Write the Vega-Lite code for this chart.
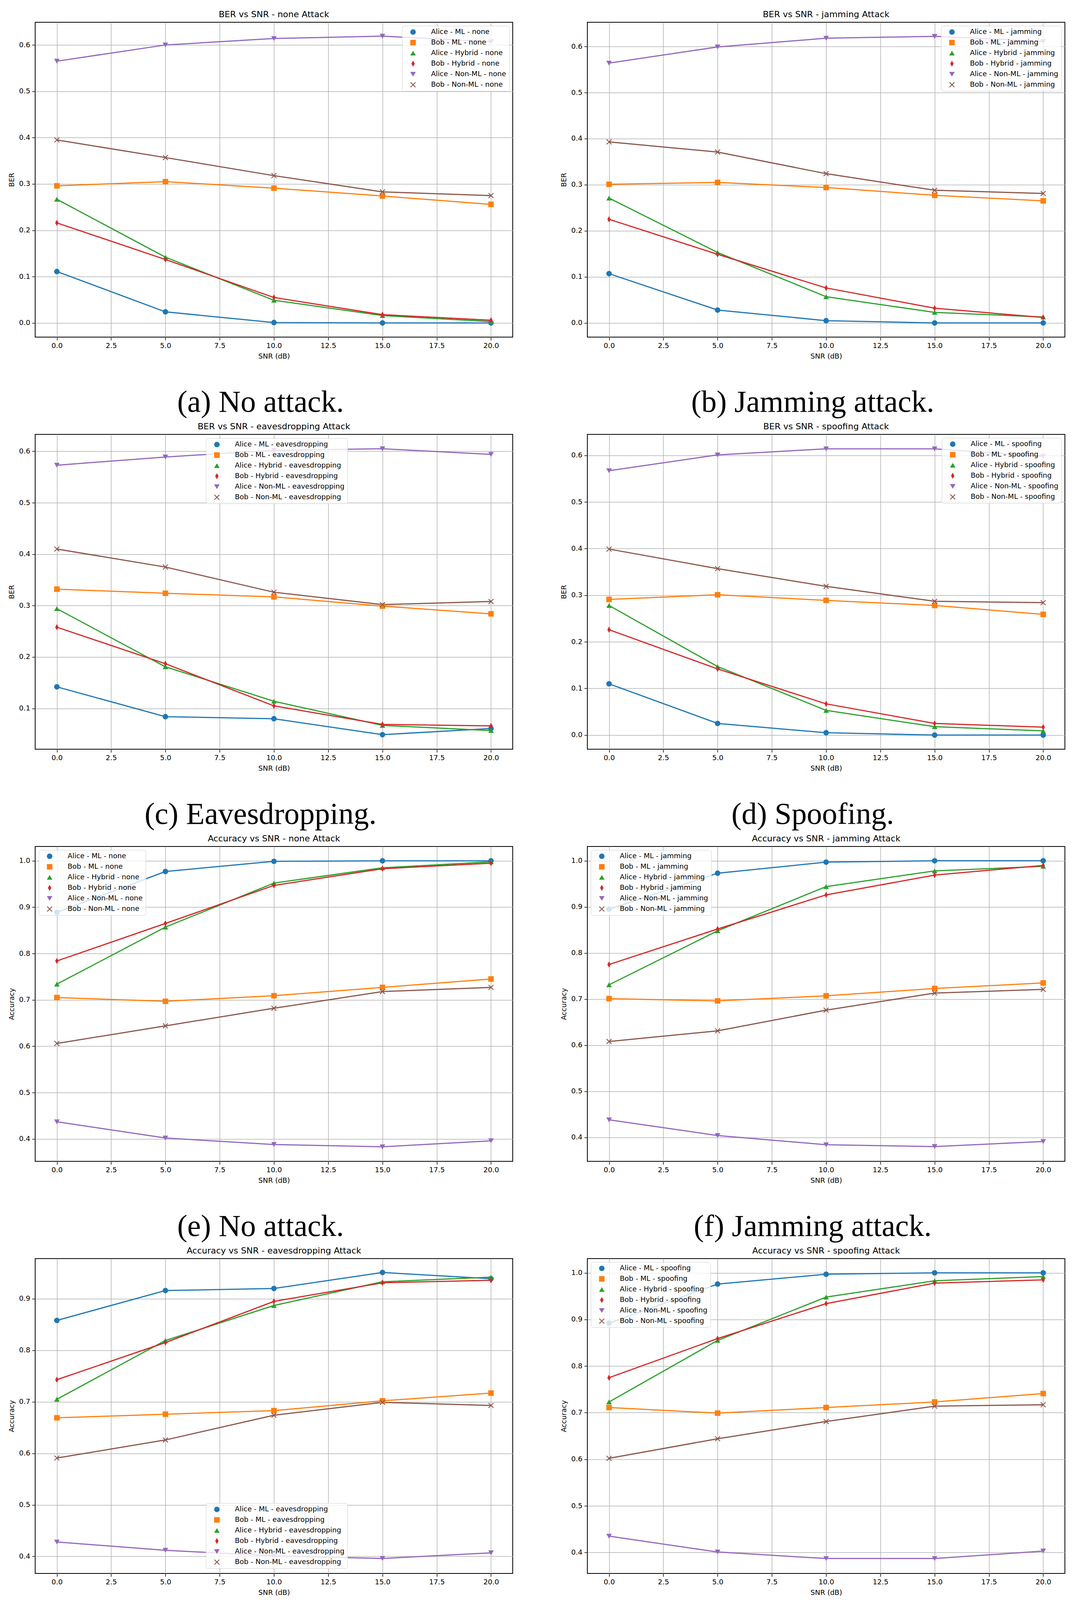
{
  "$schema": "https://vega.github.io/schema/vega-lite/v6.json",
  "background": "white",
  "padding": {"left": 20, "top": 25, "right": 10, "bottom": 0},
  "config": {
    "font": "DejaVu Sans",
    "view": {"stroke": "#000000", "strokeWidth": 2},
    "axis": {
      "labelFontSize": 18, "labelColor": "#000000", "titleFontSize": 18, "titleFontWeight": "normal",
      "titleColor": "#000000", "tickColor": "#000000", "tickSize": 8, "tickWidth": 1.5, "domain": false,
      "grid": true, "gridColor": "#b0b0b0", "gridWidth": 1.5, "labelPadding": 5, "titlePadding": 9
    },
    "axisX": {"labelAngle": 0},
    "title": {"fontSize": 22, "fontWeight": "normal", "color": "#000000", "offset": 8, "anchor": "middle"},
    "legend": {
      "labelFontSize": 18, "labelColor": "#000000", "labelLimit": 400, "symbolSize": 200, "symbolStrokeWidth": 0,
      "symbolOffset": 12, "labelOffset": 37, "rowPadding": 9, "padding": 7, "fillColor": "rgba(255,255,255,0.8)",
      "strokeColor": "#d0d0d0", "cornerRadius": 5, "offset": 9
    },
    "line": {"strokeWidth": 3},
    "point": {"filled": true, "size": 200, "opacity": 1}
  },
  "data": {"values": [
    {"p":"a","s":"Alice - ML","x":0,"y":0.111},{"p":"a","s":"Alice - ML","x":5,"y":0.024},{"p":"a","s":"Alice - ML","x":10,"y":0.001},{"p":"a","s":"Alice - ML","x":15,"y":0.0},{"p":"a","s":"Alice - ML","x":20,"y":0.0},
    {"p":"a","s":"Bob - ML","x":0,"y":0.296},{"p":"a","s":"Bob - ML","x":5,"y":0.305},{"p":"a","s":"Bob - ML","x":10,"y":0.291},{"p":"a","s":"Bob - ML","x":15,"y":0.274},{"p":"a","s":"Bob - ML","x":20,"y":0.256},
    {"p":"a","s":"Alice - Hybrid","x":0,"y":0.267},{"p":"a","s":"Alice - Hybrid","x":5,"y":0.142},{"p":"a","s":"Alice - Hybrid","x":10,"y":0.049},{"p":"a","s":"Alice - Hybrid","x":15,"y":0.016},{"p":"a","s":"Alice - Hybrid","x":20,"y":0.003},
    {"p":"a","s":"Bob - Hybrid","x":0,"y":0.216},{"p":"a","s":"Bob - Hybrid","x":5,"y":0.137},{"p":"a","s":"Bob - Hybrid","x":10,"y":0.055},{"p":"a","s":"Bob - Hybrid","x":15,"y":0.018},{"p":"a","s":"Bob - Hybrid","x":20,"y":0.006},
    {"p":"a","s":"Alice - Non-ML","x":0,"y":0.565},{"p":"a","s":"Alice - Non-ML","x":5,"y":0.600},{"p":"a","s":"Alice - Non-ML","x":10,"y":0.614},{"p":"a","s":"Alice - Non-ML","x":15,"y":0.619},{"p":"a","s":"Alice - Non-ML","x":20,"y":0.607},
    {"p":"a","s":"Bob - Non-ML","x":0,"y":0.395},{"p":"a","s":"Bob - Non-ML","x":5,"y":0.357},{"p":"a","s":"Bob - Non-ML","x":10,"y":0.318},{"p":"a","s":"Bob - Non-ML","x":15,"y":0.283},{"p":"a","s":"Bob - Non-ML","x":20,"y":0.275},

    {"p":"b","s":"Alice - ML","x":0,"y":0.107},{"p":"b","s":"Alice - ML","x":5,"y":0.028},{"p":"b","s":"Alice - ML","x":10,"y":0.005},{"p":"b","s":"Alice - ML","x":15,"y":0.0},{"p":"b","s":"Alice - ML","x":20,"y":0.0},
    {"p":"b","s":"Bob - ML","x":0,"y":0.301},{"p":"b","s":"Bob - ML","x":5,"y":0.305},{"p":"b","s":"Bob - ML","x":10,"y":0.294},{"p":"b","s":"Bob - ML","x":15,"y":0.277},{"p":"b","s":"Bob - ML","x":20,"y":0.265},
    {"p":"b","s":"Alice - Hybrid","x":0,"y":0.271},{"p":"b","s":"Alice - Hybrid","x":5,"y":0.153},{"p":"b","s":"Alice - Hybrid","x":10,"y":0.057},{"p":"b","s":"Alice - Hybrid","x":15,"y":0.023},{"p":"b","s":"Alice - Hybrid","x":20,"y":0.013},
    {"p":"b","s":"Bob - Hybrid","x":0,"y":0.225},{"p":"b","s":"Bob - Hybrid","x":5,"y":0.149},{"p":"b","s":"Bob - Hybrid","x":10,"y":0.076},{"p":"b","s":"Bob - Hybrid","x":15,"y":0.032},{"p":"b","s":"Bob - Hybrid","x":20,"y":0.012},
    {"p":"b","s":"Alice - Non-ML","x":0,"y":0.564},{"p":"b","s":"Alice - Non-ML","x":5,"y":0.599},{"p":"b","s":"Alice - Non-ML","x":10,"y":0.618},{"p":"b","s":"Alice - Non-ML","x":15,"y":0.622},{"p":"b","s":"Alice - Non-ML","x":20,"y":0.611},
    {"p":"b","s":"Bob - Non-ML","x":0,"y":0.393},{"p":"b","s":"Bob - Non-ML","x":5,"y":0.371},{"p":"b","s":"Bob - Non-ML","x":10,"y":0.324},{"p":"b","s":"Bob - Non-ML","x":15,"y":0.288},{"p":"b","s":"Bob - Non-ML","x":20,"y":0.281},

    {"p":"c","s":"Alice - ML","x":0,"y":0.142},{"p":"c","s":"Alice - ML","x":5,"y":0.084},{"p":"c","s":"Alice - ML","x":10,"y":0.080},{"p":"c","s":"Alice - ML","x":15,"y":0.049},{"p":"c","s":"Alice - ML","x":20,"y":0.061},
    {"p":"c","s":"Bob - ML","x":0,"y":0.332},{"p":"c","s":"Bob - ML","x":5,"y":0.324},{"p":"c","s":"Bob - ML","x":10,"y":0.317},{"p":"c","s":"Bob - ML","x":15,"y":0.299},{"p":"c","s":"Bob - ML","x":20,"y":0.284},
    {"p":"c","s":"Alice - Hybrid","x":0,"y":0.294},{"p":"c","s":"Alice - Hybrid","x":5,"y":0.181},{"p":"c","s":"Alice - Hybrid","x":10,"y":0.114},{"p":"c","s":"Alice - Hybrid","x":15,"y":0.067},{"p":"c","s":"Alice - Hybrid","x":20,"y":0.057},
    {"p":"c","s":"Bob - Hybrid","x":0,"y":0.258},{"p":"c","s":"Bob - Hybrid","x":5,"y":0.187},{"p":"c","s":"Bob - Hybrid","x":10,"y":0.105},{"p":"c","s":"Bob - Hybrid","x":15,"y":0.069},{"p":"c","s":"Bob - Hybrid","x":20,"y":0.066},
    {"p":"c","s":"Alice - Non-ML","x":0,"y":0.573},{"p":"c","s":"Alice - Non-ML","x":5,"y":0.589},{"p":"c","s":"Alice - Non-ML","x":10,"y":0.602},{"p":"c","s":"Alice - Non-ML","x":15,"y":0.605},{"p":"c","s":"Alice - Non-ML","x":20,"y":0.594},
    {"p":"c","s":"Bob - Non-ML","x":0,"y":0.410},{"p":"c","s":"Bob - Non-ML","x":5,"y":0.375},{"p":"c","s":"Bob - Non-ML","x":10,"y":0.326},{"p":"c","s":"Bob - Non-ML","x":15,"y":0.302},{"p":"c","s":"Bob - Non-ML","x":20,"y":0.308},

    {"p":"d","s":"Alice - ML","x":0,"y":0.110},{"p":"d","s":"Alice - ML","x":5,"y":0.025},{"p":"d","s":"Alice - ML","x":10,"y":0.005},{"p":"d","s":"Alice - ML","x":15,"y":0.0},{"p":"d","s":"Alice - ML","x":20,"y":0.0},
    {"p":"d","s":"Bob - ML","x":0,"y":0.291},{"p":"d","s":"Bob - ML","x":5,"y":0.301},{"p":"d","s":"Bob - ML","x":10,"y":0.289},{"p":"d","s":"Bob - ML","x":15,"y":0.278},{"p":"d","s":"Bob - ML","x":20,"y":0.259},
    {"p":"d","s":"Alice - Hybrid","x":0,"y":0.278},{"p":"d","s":"Alice - Hybrid","x":5,"y":0.147},{"p":"d","s":"Alice - Hybrid","x":10,"y":0.053},{"p":"d","s":"Alice - Hybrid","x":15,"y":0.018},{"p":"d","s":"Alice - Hybrid","x":20,"y":0.009},
    {"p":"d","s":"Bob - Hybrid","x":0,"y":0.226},{"p":"d","s":"Bob - Hybrid","x":5,"y":0.142},{"p":"d","s":"Bob - Hybrid","x":10,"y":0.067},{"p":"d","s":"Bob - Hybrid","x":15,"y":0.025},{"p":"d","s":"Bob - Hybrid","x":20,"y":0.017},
    {"p":"d","s":"Alice - Non-ML","x":0,"y":0.567},{"p":"d","s":"Alice - Non-ML","x":5,"y":0.601},{"p":"d","s":"Alice - Non-ML","x":10,"y":0.614},{"p":"d","s":"Alice - Non-ML","x":15,"y":0.614},{"p":"d","s":"Alice - Non-ML","x":20,"y":0.598},
    {"p":"d","s":"Bob - Non-ML","x":0,"y":0.399},{"p":"d","s":"Bob - Non-ML","x":5,"y":0.357},{"p":"d","s":"Bob - Non-ML","x":10,"y":0.319},{"p":"d","s":"Bob - Non-ML","x":15,"y":0.287},{"p":"d","s":"Bob - Non-ML","x":20,"y":0.284},

    {"p":"e","s":"Alice - ML","x":0,"y":0.889},{"p":"e","s":"Alice - ML","x":5,"y":0.977},{"p":"e","s":"Alice - ML","x":10,"y":0.999},{"p":"e","s":"Alice - ML","x":15,"y":1.0},{"p":"e","s":"Alice - ML","x":20,"y":1.0},
    {"p":"e","s":"Bob - ML","x":0,"y":0.705},{"p":"e","s":"Bob - ML","x":5,"y":0.697},{"p":"e","s":"Bob - ML","x":10,"y":0.709},{"p":"e","s":"Bob - ML","x":15,"y":0.727},{"p":"e","s":"Bob - ML","x":20,"y":0.745},
    {"p":"e","s":"Alice - Hybrid","x":0,"y":0.734},{"p":"e","s":"Alice - Hybrid","x":5,"y":0.857},{"p":"e","s":"Alice - Hybrid","x":10,"y":0.952},{"p":"e","s":"Alice - Hybrid","x":15,"y":0.985},{"p":"e","s":"Alice - Hybrid","x":20,"y":0.998},
    {"p":"e","s":"Bob - Hybrid","x":0,"y":0.784},{"p":"e","s":"Bob - Hybrid","x":5,"y":0.865},{"p":"e","s":"Bob - Hybrid","x":10,"y":0.947},{"p":"e","s":"Bob - Hybrid","x":15,"y":0.983},{"p":"e","s":"Bob - Hybrid","x":20,"y":0.995},
    {"p":"e","s":"Alice - Non-ML","x":0,"y":0.437},{"p":"e","s":"Alice - Non-ML","x":5,"y":0.402},{"p":"e","s":"Alice - Non-ML","x":10,"y":0.388},{"p":"e","s":"Alice - Non-ML","x":15,"y":0.383},{"p":"e","s":"Alice - Non-ML","x":20,"y":0.396},
    {"p":"e","s":"Bob - Non-ML","x":0,"y":0.606},{"p":"e","s":"Bob - Non-ML","x":5,"y":0.644},{"p":"e","s":"Bob - Non-ML","x":10,"y":0.682},{"p":"e","s":"Bob - Non-ML","x":15,"y":0.718},{"p":"e","s":"Bob - Non-ML","x":20,"y":0.727},

    {"p":"f","s":"Alice - ML","x":0,"y":0.895},{"p":"f","s":"Alice - ML","x":5,"y":0.973},{"p":"f","s":"Alice - ML","x":10,"y":0.997},{"p":"f","s":"Alice - ML","x":15,"y":1.0},{"p":"f","s":"Alice - ML","x":20,"y":1.0},
    {"p":"f","s":"Bob - ML","x":0,"y":0.701},{"p":"f","s":"Bob - ML","x":5,"y":0.696},{"p":"f","s":"Bob - ML","x":10,"y":0.707},{"p":"f","s":"Bob - ML","x":15,"y":0.723},{"p":"f","s":"Bob - ML","x":20,"y":0.735},
    {"p":"f","s":"Alice - Hybrid","x":0,"y":0.731},{"p":"f","s":"Alice - Hybrid","x":5,"y":0.848},{"p":"f","s":"Alice - Hybrid","x":10,"y":0.944},{"p":"f","s":"Alice - Hybrid","x":15,"y":0.978},{"p":"f","s":"Alice - Hybrid","x":20,"y":0.988},
    {"p":"f","s":"Bob - Hybrid","x":0,"y":0.775},{"p":"f","s":"Bob - Hybrid","x":5,"y":0.852},{"p":"f","s":"Bob - Hybrid","x":10,"y":0.926},{"p":"f","s":"Bob - Hybrid","x":15,"y":0.969},{"p":"f","s":"Bob - Hybrid","x":20,"y":0.990},
    {"p":"f","s":"Alice - Non-ML","x":0,"y":0.438},{"p":"f","s":"Alice - Non-ML","x":5,"y":0.404},{"p":"f","s":"Alice - Non-ML","x":10,"y":0.384},{"p":"f","s":"Alice - Non-ML","x":15,"y":0.380},{"p":"f","s":"Alice - Non-ML","x":20,"y":0.391},
    {"p":"f","s":"Bob - Non-ML","x":0,"y":0.608},{"p":"f","s":"Bob - Non-ML","x":5,"y":0.631},{"p":"f","s":"Bob - Non-ML","x":10,"y":0.676},{"p":"f","s":"Bob - Non-ML","x":15,"y":0.713},{"p":"f","s":"Bob - Non-ML","x":20,"y":0.721},

    {"p":"g","s":"Alice - ML","x":0,"y":0.858},{"p":"g","s":"Alice - ML","x":5,"y":0.916},{"p":"g","s":"Alice - ML","x":10,"y":0.920},{"p":"g","s":"Alice - ML","x":15,"y":0.951},{"p":"g","s":"Alice - ML","x":20,"y":0.939},
    {"p":"g","s":"Bob - ML","x":0,"y":0.669},{"p":"g","s":"Bob - ML","x":5,"y":0.676},{"p":"g","s":"Bob - ML","x":10,"y":0.683},{"p":"g","s":"Bob - ML","x":15,"y":0.702},{"p":"g","s":"Bob - ML","x":20,"y":0.717},
    {"p":"g","s":"Alice - Hybrid","x":0,"y":0.705},{"p":"g","s":"Alice - Hybrid","x":5,"y":0.819},{"p":"g","s":"Alice - Hybrid","x":10,"y":0.887},{"p":"g","s":"Alice - Hybrid","x":15,"y":0.933},{"p":"g","s":"Alice - Hybrid","x":20,"y":0.942},
    {"p":"g","s":"Bob - Hybrid","x":0,"y":0.743},{"p":"g","s":"Bob - Hybrid","x":5,"y":0.815},{"p":"g","s":"Bob - Hybrid","x":10,"y":0.895},{"p":"g","s":"Bob - Hybrid","x":15,"y":0.931},{"p":"g","s":"Bob - Hybrid","x":20,"y":0.936},
    {"p":"g","s":"Alice - Non-ML","x":0,"y":0.428},{"p":"g","s":"Alice - Non-ML","x":5,"y":0.412},{"p":"g","s":"Alice - Non-ML","x":10,"y":0.401},{"p":"g","s":"Alice - Non-ML","x":15,"y":0.396},{"p":"g","s":"Alice - Non-ML","x":20,"y":0.407},
    {"p":"g","s":"Bob - Non-ML","x":0,"y":0.591},{"p":"g","s":"Bob - Non-ML","x":5,"y":0.626},{"p":"g","s":"Bob - Non-ML","x":10,"y":0.674},{"p":"g","s":"Bob - Non-ML","x":15,"y":0.699},{"p":"g","s":"Bob - Non-ML","x":20,"y":0.693},

    {"p":"h","s":"Alice - ML","x":0,"y":0.892},{"p":"h","s":"Alice - ML","x":5,"y":0.976},{"p":"h","s":"Alice - ML","x":10,"y":0.997},{"p":"h","s":"Alice - ML","x":15,"y":1.0},{"p":"h","s":"Alice - ML","x":20,"y":1.0},
    {"p":"h","s":"Bob - ML","x":0,"y":0.711},{"p":"h","s":"Bob - ML","x":5,"y":0.699},{"p":"h","s":"Bob - ML","x":10,"y":0.711},{"p":"h","s":"Bob - ML","x":15,"y":0.723},{"p":"h","s":"Bob - ML","x":20,"y":0.741},
    {"p":"h","s":"Alice - Hybrid","x":0,"y":0.723},{"p":"h","s":"Alice - Hybrid","x":5,"y":0.855},{"p":"h","s":"Alice - Hybrid","x":10,"y":0.948},{"p":"h","s":"Alice - Hybrid","x":15,"y":0.983},{"p":"h","s":"Alice - Hybrid","x":20,"y":0.992},
    {"p":"h","s":"Bob - Hybrid","x":0,"y":0.775},{"p":"h","s":"Bob - Hybrid","x":5,"y":0.859},{"p":"h","s":"Bob - Hybrid","x":10,"y":0.934},{"p":"h","s":"Bob - Hybrid","x":15,"y":0.978},{"p":"h","s":"Bob - Hybrid","x":20,"y":0.985},
    {"p":"h","s":"Alice - Non-ML","x":0,"y":0.435},{"p":"h","s":"Alice - Non-ML","x":5,"y":0.401},{"p":"h","s":"Alice - Non-ML","x":10,"y":0.387},{"p":"h","s":"Alice - Non-ML","x":15,"y":0.387},{"p":"h","s":"Alice - Non-ML","x":20,"y":0.403},
    {"p":"h","s":"Bob - Non-ML","x":0,"y":0.602},{"p":"h","s":"Bob - Non-ML","x":5,"y":0.644},{"p":"h","s":"Bob - Non-ML","x":10,"y":0.681},{"p":"h","s":"Bob - Non-ML","x":15,"y":0.714},{"p":"h","s":"Bob - Non-ML","x":20,"y":0.717}
  ]},
  "columns": 2,
  "spacing": {"row": 10, "column": 120},
  "resolve": {"scale": {"color": "independent", "shape": "independent"}, "legend": {"color": "independent", "shape": "independent"}},
  "concat": [
    {
      "title": {"text": "(a) No attack.", "orient": "bottom", "font": "Liberation Serif", "fontSize": 78, "fontWeight": "normal", "baseline": "top", "offset": 70},
      "resolve": {"scale": {"color": "independent", "shape": "independent"}, "legend": {"color": "independent", "shape": "independent"}},
      "vconcat": [{
        "title": "BER vs SNR - none Attack",
        "width": 1222, "height": 806,
        "transform": [{"filter": "datum.p == 'a'"}],
        "encoding": {
          "x": {"field": "x", "type": "quantitative", "scale": {"domain": [-1, 21], "nice": false, "zero": false}, "axis": {"values": [0, 2.5, 5, 7.5, 10, 12.5, 15, 17.5, 20], "format": ".1f", "title": "SNR (dB)"}},
          "y": {"field": "y", "type": "quantitative", "scale": {"domain": [-0.0305, 0.649], "nice": false, "zero": false}, "axis": {"values": [0, 0.1, 0.2, 0.3, 0.4, 0.5, 0.6], "format": ".1f", "title": "BER"}}
        },
        "layer": [
          {"transform": [{"filter": "datum.s == 'Alice - ML'"}], "mark": {"type": "line", "color": "#1f77b4"}},
          {"transform": [{"filter": "datum.s == 'Bob - ML'"}], "mark": {"type": "line", "color": "#ff7f0e"}},
          {"transform": [{"filter": "datum.s == 'Alice - Hybrid'"}], "mark": {"type": "line", "color": "#2ca02c"}},
          {"transform": [{"filter": "datum.s == 'Bob - Hybrid'"}], "mark": {"type": "line", "color": "#d62728"}},
          {"transform": [{"filter": "datum.s == 'Alice - Non-ML'"}], "mark": {"type": "line", "color": "#9467bd"}},
          {"transform": [{"filter": "datum.s == 'Bob - Non-ML'"}], "mark": {"type": "line", "color": "#8c564b"}},
          {"mark": "point", "encoding": {
            "color": {"field": "s", "type": "nominal", "scale": {"domain": ["Alice - ML", "Bob - ML", "Alice - Hybrid", "Bob - Hybrid", "Alice - Non-ML", "Bob - Non-ML"], "range": ["#1f77b4", "#ff7f0e", "#2ca02c", "#d62728", "#9467bd", "#8c564b"]},
              "legend": {"title": null, "orient": "top-right", "labelExpr": "datum.label + ' - none'"}},
            "shape": {"field": "s", "type": "nominal", "scale": {"domain": ["Alice - ML", "Bob - ML", "Alice - Hybrid", "Bob - Hybrid", "Alice - Non-ML", "Bob - Non-ML"], "range": ["circle", "square", "triangle-up", "M0,-1.1L0.62,0L0,1.1L-0.62,0Z", "triangle-down", "M-0.78,-1L1,0.78L0.78,1L-1,-0.78Z M1,-0.78L-0.78,1L-1,0.78L0.78,-1Z"]},
              "legend": {"title": null, "orient": "top-right", "labelExpr": "datum.label + ' - none'"}}
          }}
        ]
      }]
    },
    {
      "title": {"text": "(b) Jamming attack.", "orient": "bottom", "font": "Liberation Serif", "fontSize": 78, "fontWeight": "normal", "baseline": "top", "offset": 70},
      "resolve": {"scale": {"color": "independent", "shape": "independent"}, "legend": {"color": "independent", "shape": "independent"}},
      "vconcat": [{
        "title": "BER vs SNR - jamming Attack",
        "width": 1222, "height": 806,
        "transform": [{"filter": "datum.p == 'b'"}],
        "encoding": {
          "x": {"field": "x", "type": "quantitative", "scale": {"domain": [-1, 21], "nice": false, "zero": false}, "axis": {"values": [0, 2.5, 5, 7.5, 10, 12.5, 15, 17.5, 20], "format": ".1f", "title": "SNR (dB)"}},
          "y": {"field": "y", "type": "quantitative", "scale": {"domain": [-0.0307, 0.6526], "nice": false, "zero": false}, "axis": {"values": [0, 0.1, 0.2, 0.3, 0.4, 0.5, 0.6], "format": ".1f", "title": "BER"}}
        },
        "layer": [
          {"transform": [{"filter": "datum.s == 'Alice - ML'"}], "mark": {"type": "line", "color": "#1f77b4"}},
          {"transform": [{"filter": "datum.s == 'Bob - ML'"}], "mark": {"type": "line", "color": "#ff7f0e"}},
          {"transform": [{"filter": "datum.s == 'Alice - Hybrid'"}], "mark": {"type": "line", "color": "#2ca02c"}},
          {"transform": [{"filter": "datum.s == 'Bob - Hybrid'"}], "mark": {"type": "line", "color": "#d62728"}},
          {"transform": [{"filter": "datum.s == 'Alice - Non-ML'"}], "mark": {"type": "line", "color": "#9467bd"}},
          {"transform": [{"filter": "datum.s == 'Bob - Non-ML'"}], "mark": {"type": "line", "color": "#8c564b"}},
          {"mark": "point", "encoding": {
            "color": {"field": "s", "type": "nominal", "scale": {"domain": ["Alice - ML", "Bob - ML", "Alice - Hybrid", "Bob - Hybrid", "Alice - Non-ML", "Bob - Non-ML"], "range": ["#1f77b4", "#ff7f0e", "#2ca02c", "#d62728", "#9467bd", "#8c564b"]},
              "legend": {"title": null, "orient": "top-right", "labelExpr": "datum.label + ' - jamming'"}},
            "shape": {"field": "s", "type": "nominal", "scale": {"domain": ["Alice - ML", "Bob - ML", "Alice - Hybrid", "Bob - Hybrid", "Alice - Non-ML", "Bob - Non-ML"], "range": ["circle", "square", "triangle-up", "M0,-1.1L0.62,0L0,1.1L-0.62,0Z", "triangle-down", "M-0.78,-1L1,0.78L0.78,1L-1,-0.78Z M1,-0.78L-0.78,1L-1,0.78L0.78,-1Z"]},
              "legend": {"title": null, "orient": "top-right", "labelExpr": "datum.label + ' - jamming'"}}
          }}
        ]
      }]
    },
    {
      "title": {"text": "(c) Eavesdropping.", "orient": "bottom", "font": "Liberation Serif", "fontSize": 78, "fontWeight": "normal", "baseline": "top", "offset": 70},
      "resolve": {"scale": {"color": "independent", "shape": "independent"}, "legend": {"color": "independent", "shape": "independent"}},
      "vconcat": [{
        "title": "BER vs SNR - eavesdropping Attack",
        "width": 1222, "height": 806,
        "transform": [{"filter": "datum.p == 'c'"}],
        "encoding": {
          "x": {"field": "x", "type": "quantitative", "scale": {"domain": [-1, 21], "nice": false, "zero": false}, "axis": {"values": [0, 2.5, 5, 7.5, 10, 12.5, 15, 17.5, 20], "format": ".1f", "title": "SNR (dB)"}},
          "y": {"field": "y", "type": "quantitative", "scale": {"domain": [0.0207, 0.633], "nice": false, "zero": false}, "axis": {"values": [0.1, 0.2, 0.3, 0.4, 0.5, 0.6], "format": ".1f", "title": "BER"}}
        },
        "layer": [
          {"transform": [{"filter": "datum.s == 'Alice - ML'"}], "mark": {"type": "line", "color": "#1f77b4"}},
          {"transform": [{"filter": "datum.s == 'Bob - ML'"}], "mark": {"type": "line", "color": "#ff7f0e"}},
          {"transform": [{"filter": "datum.s == 'Alice - Hybrid'"}], "mark": {"type": "line", "color": "#2ca02c"}},
          {"transform": [{"filter": "datum.s == 'Bob - Hybrid'"}], "mark": {"type": "line", "color": "#d62728"}},
          {"transform": [{"filter": "datum.s == 'Alice - Non-ML'"}], "mark": {"type": "line", "color": "#9467bd"}},
          {"transform": [{"filter": "datum.s == 'Bob - Non-ML'"}], "mark": {"type": "line", "color": "#8c564b"}},
          {"mark": "point", "encoding": {
            "color": {"field": "s", "type": "nominal", "scale": {"domain": ["Alice - ML", "Bob - ML", "Alice - Hybrid", "Bob - Hybrid", "Alice - Non-ML", "Bob - Non-ML"], "range": ["#1f77b4", "#ff7f0e", "#2ca02c", "#d62728", "#9467bd", "#8c564b"]},
              "legend": {"title": null, "orient": "none", "legendX": 437, "legendY": 10, "labelExpr": "datum.label + ' - eavesdropping'"}},
            "shape": {"field": "s", "type": "nominal", "scale": {"domain": ["Alice - ML", "Bob - ML", "Alice - Hybrid", "Bob - Hybrid", "Alice - Non-ML", "Bob - Non-ML"], "range": ["circle", "square", "triangle-up", "M0,-1.1L0.62,0L0,1.1L-0.62,0Z", "triangle-down", "M-0.78,-1L1,0.78L0.78,1L-1,-0.78Z M1,-0.78L-0.78,1L-1,0.78L0.78,-1Z"]},
              "legend": {"title": null, "orient": "none", "legendX": 437, "legendY": 10, "labelExpr": "datum.label + ' - eavesdropping'"}}
          }}
        ]
      }]
    },
    {
      "title": {"text": "(d) Spoofing.", "orient": "bottom", "font": "Liberation Serif", "fontSize": 78, "fontWeight": "normal", "baseline": "top", "offset": 70},
      "resolve": {"scale": {"color": "independent", "shape": "independent"}, "legend": {"color": "independent", "shape": "independent"}},
      "vconcat": [{
        "title": "BER vs SNR - spoofing Attack",
        "width": 1222, "height": 806,
        "transform": [{"filter": "datum.p == 'd'"}],
        "encoding": {
          "x": {"field": "x", "type": "quantitative", "scale": {"domain": [-1, 21], "nice": false, "zero": false}, "axis": {"values": [0, 2.5, 5, 7.5, 10, 12.5, 15, 17.5, 20], "format": ".1f", "title": "SNR (dB)"}},
          "y": {"field": "y", "type": "quantitative", "scale": {"domain": [-0.0303, 0.645], "nice": false, "zero": false}, "axis": {"values": [0, 0.1, 0.2, 0.3, 0.4, 0.5, 0.6], "format": ".1f", "title": "BER"}}
        },
        "layer": [
          {"transform": [{"filter": "datum.s == 'Alice - ML'"}], "mark": {"type": "line", "color": "#1f77b4"}},
          {"transform": [{"filter": "datum.s == 'Bob - ML'"}], "mark": {"type": "line", "color": "#ff7f0e"}},
          {"transform": [{"filter": "datum.s == 'Alice - Hybrid'"}], "mark": {"type": "line", "color": "#2ca02c"}},
          {"transform": [{"filter": "datum.s == 'Bob - Hybrid'"}], "mark": {"type": "line", "color": "#d62728"}},
          {"transform": [{"filter": "datum.s == 'Alice - Non-ML'"}], "mark": {"type": "line", "color": "#9467bd"}},
          {"transform": [{"filter": "datum.s == 'Bob - Non-ML'"}], "mark": {"type": "line", "color": "#8c564b"}},
          {"mark": "point", "encoding": {
            "color": {"field": "s", "type": "nominal", "scale": {"domain": ["Alice - ML", "Bob - ML", "Alice - Hybrid", "Bob - Hybrid", "Alice - Non-ML", "Bob - Non-ML"], "range": ["#1f77b4", "#ff7f0e", "#2ca02c", "#d62728", "#9467bd", "#8c564b"]},
              "legend": {"title": null, "orient": "top-right", "labelExpr": "datum.label + ' - spoofing'"}},
            "shape": {"field": "s", "type": "nominal", "scale": {"domain": ["Alice - ML", "Bob - ML", "Alice - Hybrid", "Bob - Hybrid", "Alice - Non-ML", "Bob - Non-ML"], "range": ["circle", "square", "triangle-up", "M0,-1.1L0.62,0L0,1.1L-0.62,0Z", "triangle-down", "M-0.78,-1L1,0.78L0.78,1L-1,-0.78Z M1,-0.78L-0.78,1L-1,0.78L0.78,-1Z"]},
              "legend": {"title": null, "orient": "top-right", "labelExpr": "datum.label + ' - spoofing'"}}
          }}
        ]
      }]
    },
    {
      "title": {"text": "(e) No attack.", "orient": "bottom", "font": "Liberation Serif", "fontSize": 78, "fontWeight": "normal", "baseline": "top", "offset": 70},
      "resolve": {"scale": {"color": "independent", "shape": "independent"}, "legend": {"color": "independent", "shape": "independent"}},
      "vconcat": [{
        "title": "Accuracy vs SNR - none Attack",
        "width": 1222, "height": 806,
        "transform": [{"filter": "datum.p == 'e'"}],
        "encoding": {
          "x": {"field": "x", "type": "quantitative", "scale": {"domain": [-1, 21], "nice": false, "zero": false}, "axis": {"values": [0, 2.5, 5, 7.5, 10, 12.5, 15, 17.5, 20], "format": ".1f", "title": "SNR (dB)"}},
          "y": {"field": "y", "type": "quantitative", "scale": {"domain": [0.3517, 1.031], "nice": false, "zero": false}, "axis": {"values": [0.4, 0.5, 0.6, 0.7, 0.8, 0.9, 1.0], "format": ".1f", "title": "Accuracy"}}
        },
        "layer": [
          {"transform": [{"filter": "datum.s == 'Alice - ML'"}], "mark": {"type": "line", "color": "#1f77b4"}},
          {"transform": [{"filter": "datum.s == 'Bob - ML'"}], "mark": {"type": "line", "color": "#ff7f0e"}},
          {"transform": [{"filter": "datum.s == 'Alice - Hybrid'"}], "mark": {"type": "line", "color": "#2ca02c"}},
          {"transform": [{"filter": "datum.s == 'Bob - Hybrid'"}], "mark": {"type": "line", "color": "#d62728"}},
          {"transform": [{"filter": "datum.s == 'Alice - Non-ML'"}], "mark": {"type": "line", "color": "#9467bd"}},
          {"transform": [{"filter": "datum.s == 'Bob - Non-ML'"}], "mark": {"type": "line", "color": "#8c564b"}},
          {"mark": "point", "encoding": {
            "color": {"field": "s", "type": "nominal", "scale": {"domain": ["Alice - ML", "Bob - ML", "Alice - Hybrid", "Bob - Hybrid", "Alice - Non-ML", "Bob - Non-ML"], "range": ["#1f77b4", "#ff7f0e", "#2ca02c", "#d62728", "#9467bd", "#8c564b"]},
              "legend": {"title": null, "orient": "top-left", "labelExpr": "datum.label + ' - none'"}},
            "shape": {"field": "s", "type": "nominal", "scale": {"domain": ["Alice - ML", "Bob - ML", "Alice - Hybrid", "Bob - Hybrid", "Alice - Non-ML", "Bob - Non-ML"], "range": ["circle", "square", "triangle-up", "M0,-1.1L0.62,0L0,1.1L-0.62,0Z", "triangle-down", "M-0.78,-1L1,0.78L0.78,1L-1,-0.78Z M1,-0.78L-0.78,1L-1,0.78L0.78,-1Z"]},
              "legend": {"title": null, "orient": "top-left", "labelExpr": "datum.label + ' - none'"}}
          }}
        ]
      }]
    },
    {
      "title": {"text": "(f) Jamming attack.", "orient": "bottom", "font": "Liberation Serif", "fontSize": 78, "fontWeight": "normal", "baseline": "top", "offset": 70},
      "resolve": {"scale": {"color": "independent", "shape": "independent"}, "legend": {"color": "independent", "shape": "independent"}},
      "vconcat": [{
        "title": "Accuracy vs SNR - jamming Attack",
        "width": 1222, "height": 806,
        "transform": [{"filter": "datum.p == 'f'"}],
        "encoding": {
          "x": {"field": "x", "type": "quantitative", "scale": {"domain": [-1, 21], "nice": false, "zero": false}, "axis": {"values": [0, 2.5, 5, 7.5, 10, 12.5, 15, 17.5, 20], "format": ".1f", "title": "SNR (dB)"}},
          "y": {"field": "y", "type": "quantitative", "scale": {"domain": [0.348, 1.031], "nice": false, "zero": false}, "axis": {"values": [0.4, 0.5, 0.6, 0.7, 0.8, 0.9, 1.0], "format": ".1f", "title": "Accuracy"}}
        },
        "layer": [
          {"transform": [{"filter": "datum.s == 'Alice - ML'"}], "mark": {"type": "line", "color": "#1f77b4"}},
          {"transform": [{"filter": "datum.s == 'Bob - ML'"}], "mark": {"type": "line", "color": "#ff7f0e"}},
          {"transform": [{"filter": "datum.s == 'Alice - Hybrid'"}], "mark": {"type": "line", "color": "#2ca02c"}},
          {"transform": [{"filter": "datum.s == 'Bob - Hybrid'"}], "mark": {"type": "line", "color": "#d62728"}},
          {"transform": [{"filter": "datum.s == 'Alice - Non-ML'"}], "mark": {"type": "line", "color": "#9467bd"}},
          {"transform": [{"filter": "datum.s == 'Bob - Non-ML'"}], "mark": {"type": "line", "color": "#8c564b"}},
          {"mark": "point", "encoding": {
            "color": {"field": "s", "type": "nominal", "scale": {"domain": ["Alice - ML", "Bob - ML", "Alice - Hybrid", "Bob - Hybrid", "Alice - Non-ML", "Bob - Non-ML"], "range": ["#1f77b4", "#ff7f0e", "#2ca02c", "#d62728", "#9467bd", "#8c564b"]},
              "legend": {"title": null, "orient": "top-left", "labelExpr": "datum.label + ' - jamming'"}},
            "shape": {"field": "s", "type": "nominal", "scale": {"domain": ["Alice - ML", "Bob - ML", "Alice - Hybrid", "Bob - Hybrid", "Alice - Non-ML", "Bob - Non-ML"], "range": ["circle", "square", "triangle-up", "M0,-1.1L0.62,0L0,1.1L-0.62,0Z", "triangle-down", "M-0.78,-1L1,0.78L0.78,1L-1,-0.78Z M1,-0.78L-0.78,1L-1,0.78L0.78,-1Z"]},
              "legend": {"title": null, "orient": "top-left", "labelExpr": "datum.label + ' - jamming'"}}
          }}
        ]
      }]
    },
    {
      "title": {"text": "(g) Eavesdropping.", "orient": "bottom", "font": "Liberation Serif", "fontSize": 78, "fontWeight": "normal", "baseline": "top", "offset": 70},
      "resolve": {"scale": {"color": "independent", "shape": "independent"}, "legend": {"color": "independent", "shape": "independent"}},
      "vconcat": [{
        "title": "Accuracy vs SNR - eavesdropping Attack",
        "width": 1222, "height": 806,
        "transform": [{"filter": "datum.p == 'g'"}],
        "encoding": {
          "x": {"field": "x", "type": "quantitative", "scale": {"domain": [-1, 21], "nice": false, "zero": false}, "axis": {"values": [0, 2.5, 5, 7.5, 10, 12.5, 15, 17.5, 20], "format": ".1f", "title": "SNR (dB)"}},
          "y": {"field": "y", "type": "quantitative", "scale": {"domain": [0.367, 0.978], "nice": false, "zero": false}, "axis": {"values": [0.4, 0.5, 0.6, 0.7, 0.8, 0.9], "format": ".1f", "title": "Accuracy"}}
        },
        "layer": [
          {"transform": [{"filter": "datum.s == 'Alice - ML'"}], "mark": {"type": "line", "color": "#1f77b4"}},
          {"transform": [{"filter": "datum.s == 'Bob - ML'"}], "mark": {"type": "line", "color": "#ff7f0e"}},
          {"transform": [{"filter": "datum.s == 'Alice - Hybrid'"}], "mark": {"type": "line", "color": "#2ca02c"}},
          {"transform": [{"filter": "datum.s == 'Bob - Hybrid'"}], "mark": {"type": "line", "color": "#d62728"}},
          {"transform": [{"filter": "datum.s == 'Alice - Non-ML'"}], "mark": {"type": "line", "color": "#9467bd"}},
          {"transform": [{"filter": "datum.s == 'Bob - Non-ML'"}], "mark": {"type": "line", "color": "#8c564b"}},
          {"mark": "point", "encoding": {
            "color": {"field": "s", "type": "nominal", "scale": {"domain": ["Alice - ML", "Bob - ML", "Alice - Hybrid", "Bob - Hybrid", "Alice - Non-ML", "Bob - Non-ML"], "range": ["#1f77b4", "#ff7f0e", "#2ca02c", "#d62728", "#9467bd", "#8c564b"]},
              "legend": {"title": null, "orient": "none", "legendX": 437, "legendY": 626, "labelExpr": "datum.label + ' - eavesdropping'"}},
            "shape": {"field": "s", "type": "nominal", "scale": {"domain": ["Alice - ML", "Bob - ML", "Alice - Hybrid", "Bob - Hybrid", "Alice - Non-ML", "Bob - Non-ML"], "range": ["circle", "square", "triangle-up", "M0,-1.1L0.62,0L0,1.1L-0.62,0Z", "triangle-down", "M-0.78,-1L1,0.78L0.78,1L-1,-0.78Z M1,-0.78L-0.78,1L-1,0.78L0.78,-1Z"]},
              "legend": {"title": null, "orient": "none", "legendX": 437, "legendY": 626, "labelExpr": "datum.label + ' - eavesdropping'"}}
          }}
        ]
      }]
    },
    {
      "title": {"text": "(h) Spoofing.", "orient": "bottom", "font": "Liberation Serif", "fontSize": 78, "fontWeight": "normal", "baseline": "top", "offset": 70},
      "resolve": {"scale": {"color": "independent", "shape": "independent"}, "legend": {"color": "independent", "shape": "independent"}},
      "vconcat": [{
        "title": "Accuracy vs SNR - spoofing Attack",
        "width": 1222, "height": 806,
        "transform": [{"filter": "datum.p == 'h'"}],
        "encoding": {
          "x": {"field": "x", "type": "quantitative", "scale": {"domain": [-1, 21], "nice": false, "zero": false}, "axis": {"values": [0, 2.5, 5, 7.5, 10, 12.5, 15, 17.5, 20], "format": ".1f", "title": "SNR (dB)"}},
          "y": {"field": "y", "type": "quantitative", "scale": {"domain": [0.355, 1.0306], "nice": false, "zero": false}, "axis": {"values": [0.4, 0.5, 0.6, 0.7, 0.8, 0.9, 1.0], "format": ".1f", "title": "Accuracy"}}
        },
        "layer": [
          {"transform": [{"filter": "datum.s == 'Alice - ML'"}], "mark": {"type": "line", "color": "#1f77b4"}},
          {"transform": [{"filter": "datum.s == 'Bob - ML'"}], "mark": {"type": "line", "color": "#ff7f0e"}},
          {"transform": [{"filter": "datum.s == 'Alice - Hybrid'"}], "mark": {"type": "line", "color": "#2ca02c"}},
          {"transform": [{"filter": "datum.s == 'Bob - Hybrid'"}], "mark": {"type": "line", "color": "#d62728"}},
          {"transform": [{"filter": "datum.s == 'Alice - Non-ML'"}], "mark": {"type": "line", "color": "#9467bd"}},
          {"transform": [{"filter": "datum.s == 'Bob - Non-ML'"}], "mark": {"type": "line", "color": "#8c564b"}},
          {"mark": "point", "encoding": {
            "color": {"field": "s", "type": "nominal", "scale": {"domain": ["Alice - ML", "Bob - ML", "Alice - Hybrid", "Bob - Hybrid", "Alice - Non-ML", "Bob - Non-ML"], "range": ["#1f77b4", "#ff7f0e", "#2ca02c", "#d62728", "#9467bd", "#8c564b"]},
              "legend": {"title": null, "orient": "top-left", "labelExpr": "datum.label + ' - spoofing'"}},
            "shape": {"field": "s", "type": "nominal", "scale": {"domain": ["Alice - ML", "Bob - ML", "Alice - Hybrid", "Bob - Hybrid", "Alice - Non-ML", "Bob - Non-ML"], "range": ["circle", "square", "triangle-up", "M0,-1.1L0.62,0L0,1.1L-0.62,0Z", "triangle-down", "M-0.78,-1L1,0.78L0.78,1L-1,-0.78Z M1,-0.78L-0.78,1L-1,0.78L0.78,-1Z"]},
              "legend": {"title": null, "orient": "top-left", "labelExpr": "datum.label + ' - spoofing'"}}
          }}
        ]
      }]
    }
  ]
}
